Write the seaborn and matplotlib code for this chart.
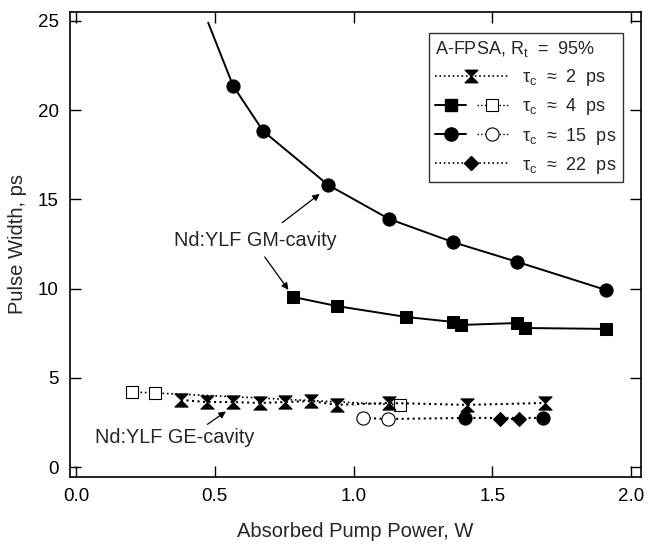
import matplotlib
matplotlib.use("Agg")
import matplotlib.pyplot as plt
import seaborn as sns
import pandas as pd
from matplotlib.path import Path
from matplotlib.lines import Line2D
from matplotlib.legend_handler import HandlerTuple

# ---- data ----
gm_curve_x = [0.476, 0.566, 0.674, 0.908, 1.128, 1.359, 1.589, 1.910]
gm_curve_y = [24.9, 21.36, 18.83, 15.81, 13.9, 12.6, 11.5, 9.92]
gm_circ_x = [0.566, 0.674, 0.908, 1.128, 1.359, 1.589, 1.910]
gm_circ_y = [21.36, 18.83, 15.81, 13.9, 12.6, 11.5, 9.92]
gm_sq_x = [0.782, 0.940, 1.189, 1.359, 1.387, 1.589, 1.618, 1.910]
gm_sq_y = [9.53, 9.02, 8.41, 8.13, 7.96, 8.07, 7.79, 7.74]

ge_bow_x = [0.378, 0.47, 0.566, 0.663, 0.753, 0.847, 0.94, 1.128, 1.409, 1.69]
ge_bow_y = [3.76, 3.64, 3.64, 3.59, 3.64, 3.70, 3.48, 3.59, 3.48, 3.59]
ge_sq_x = [0.20, 0.285, 1.168]
ge_sq_y = [4.2, 4.15, 3.48]
ge_circ_line_x = [1.034, 1.124, 1.402, 1.683]
ge_circ_line_y = [2.75, 2.69, 2.75, 2.75]
ge_circ_open_x = [1.034, 1.124]
ge_circ_open_y = [2.75, 2.69]
ge_circ_fill_x = [1.402, 1.683]
ge_circ_fill_y = [2.75, 2.75]
ge_dia_x = [1.528, 1.596]
ge_dia_y = [2.69, 2.69]

legend_labels = ["τ$_{\\rm c}$  ≈  2  ps", "τ$_{\\rm c}$  ≈  4  ps",
                 "τ$_{\\rm c}$  ≈  15  ps", "τ$_{\\rm c}$  ≈  22  ps"]
legend_title = "A-FPSA, R$_{\\rm t}$  =  95%"

sns.set_style("ticks")
plt.rcParams['font.family'] = ['Liberation Sans', 'DejaVu Sans']
plt.rcParams['mathtext.fontset'] = 'custom'
plt.rcParams['mathtext.rm'] = 'Liberation Sans'
plt.rcParams['mathtext.it'] = 'Liberation Sans:italic'

bowtie = Path([(-1, 1), (1, 1), (0, 0), (1, -1), (-1, -1), (0, 0), (-1, 1)],
              [Path.MOVETO, Path.LINETO, Path.LINETO, Path.LINETO, Path.LINETO,
               Path.LINETO, Path.CLOSEPOLY])

fig = plt.figure(figsize=(6.49, 5.5), dpi=100)
ax = fig.add_axes([70/649, 1 - 477/550, (641-70)/649, (477-12)/550])

def df(x, y):
    return pd.DataFrame({"x": x, "y": y})

k = dict(x="x", y="y", sort=False, ax=ax, legend=False, estimator=None)

# GM cavity
sns.lineplot(data=df(gm_curve_x, gm_curve_y), color="black", lw=1.4, **k)
sns.lineplot(data=df(gm_circ_x, gm_circ_y), color="black", lw=0, marker="o",
             markersize=9.5, markeredgecolor="black", **k)
sns.lineplot(data=df(gm_sq_x, gm_sq_y), color="black", lw=1.4, marker="s",
             markersize=9, markeredgecolor="black", **k)

# GE cavity
sns.lineplot(data=df(ge_sq_x, ge_sq_y), color="black", lw=1.2, ls=":", marker="s",
             markersize=9, markerfacecolor="white", markeredgecolor="black",
             markeredgewidth=0.8, **k)
sns.lineplot(data=df(ge_bow_x, ge_bow_y), color="black", lw=1.5, ls=":", marker=bowtie,
             markersize=9.5, markeredgecolor="black", **k)
sns.lineplot(data=df(ge_circ_line_x, ge_circ_line_y), color="black", lw=1.5, ls=":", **k)
sns.lineplot(data=df(ge_circ_open_x, ge_circ_open_y), color="black", lw=0, marker="o",
             markersize=9.5, markerfacecolor="white", markeredgecolor="black",
             markeredgewidth=0.8, **k)
sns.lineplot(data=df(ge_dia_x, ge_dia_y), color="black", lw=1.5, ls=":", marker="D",
             markersize=7.5, markeredgecolor="black", **k)
sns.lineplot(data=df(ge_circ_fill_x, ge_circ_fill_y), color="black", lw=0, marker="o",
             markersize=9.5, markeredgecolor="black", **k)

ax.set_xlim(-0.022, 2.036)
ax.set_ylim(-0.56, 25.5)
ax.set_xticks([0.0, 0.5, 1.0, 1.5, 2.0])
ax.set_xticklabels(["0.0", "0.5", "1.0", "1.5", "2.0"])
ax.set_yticks([0, 5, 10, 15, 20, 25])
ax.tick_params(direction="in", length=8, width=1, top=True, right=True,
               labelsize=13.5, pad=8, colors="black")
for s in ax.spines.values():
    s.set_linewidth(1.2)
    s.set_color("black")
ax.set_xlabel("Absorbed Pump Power, W", fontsize=14.5, labelpad=12)
ax.set_ylabel("Pulse Width, ps", fontsize=14.5, labelpad=8)

# annotations
ax.text(0.645, 12.72, "Nd:YLF GM-cavity", fontsize=14.3, ha="center", va="center")
arr = dict(arrowstyle="-|>", color="black", lw=0.9, mutation_scale=10)
ax.annotate("", xy=(0.886, 15.4), xytext=(0.735, 13.6), arrowprops=arr)
ax.annotate("", xy=(0.771, 9.8), xytext=(0.674, 11.9), arrowprops=arr)
ax.text(0.357, 1.63, "Nd:YLF GE-cavity", fontsize=14.3, ha="center", va="center")
ax.annotate("", xy=(0.548, 3.2), xytext=(0.465, 2.3), arrowprops=arr)

# legend
h_bow = Line2D([], [], color="black", ls=":", lw=1.2, marker=bowtie, markersize=9)
h_sq_f = Line2D([], [], color="black", ls="-", lw=1.4, marker="s", markersize=9)
h_sq_o = Line2D([], [], color="black", ls=":", lw=1.0, marker="s", markersize=9,
                markerfacecolor="white", markeredgewidth=0.8)
h_ci_f = Line2D([], [], color="black", ls="-", lw=1.4, marker="o", markersize=9.5)
h_ci_o = Line2D([], [], color="black", ls=":", lw=1.0, marker="o", markersize=9.5,
                markerfacecolor="white", markeredgewidth=0.8)
h_dia = Line2D([], [], color="black", ls=":", lw=1.2, marker="D", markersize=7.5)
leg = ax.legend([h_bow, (h_sq_f, h_sq_o), (h_ci_f, h_ci_o), h_dia], legend_labels,
                handler_map={tuple: HandlerTuple(ndivide=None, pad=0.6)},
                title=legend_title, title_fontsize=13, fontsize=13,
                loc="upper right", bbox_to_anchor=(0.968, 0.955), frameon=True,
                fancybox=False, edgecolor="black", handlelength=4.0, handletextpad=0.8,
                labelspacing=0.45, borderaxespad=0.0, borderpad=0.35)
leg.get_frame().set_linewidth(1.0)
leg._legend_box.align = "left"

fig.savefig("out.png", dpi=100)
